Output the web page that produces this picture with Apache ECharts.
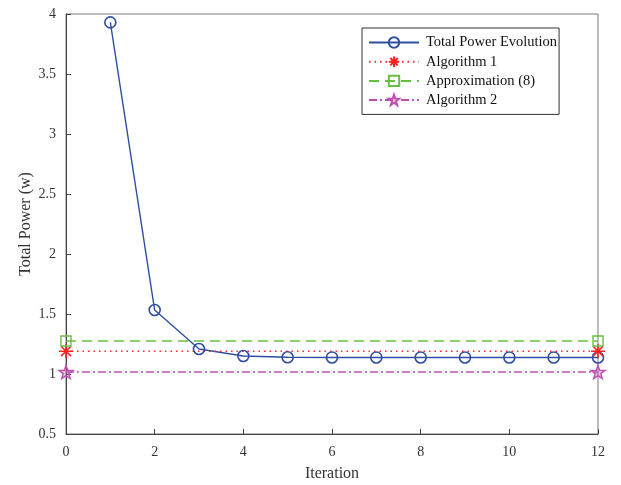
<!DOCTYPE html>
<html>
<head>
<meta charset="utf-8">
<script src="https://cdn.jsdelivr.net/npm/echarts@6/dist/echarts.min.js"></script>
<style>html,body{margin:0;padding:0;background:#fff}#c{width:621px;height:485px}</style>
</head>
<body>
<div id="c"></div>
<script>
// Iteration index and total power per iteration
const iterations = [1, 2, 3, 4, 5, 6, 7, 8, 9, 10, 11, 12];
const totalPower = [3.93, 1.533, 1.208, 1.15, 1.14, 1.138, 1.138, 1.138, 1.138, 1.138, 1.138, 1.138];
// Reference levels drawn across the whole iteration range
const levelSpan = [0, 12];
const algorithm1 = 1.19;
const approximation8 = 1.275;
const algorithm2 = 1.017;
const xTicks = { min: 0, max: 12, interval: 2 };
const yTicks = { min: 0.5, max: 4, interval: 0.5 };

const FONT = '"Liberation Serif", "Times New Roman", serif';
// eight-armed asterisk and five-pointed star marker outlines
const asterisk = 'path://M0,-10L0,10M-10,0L10,0M-7.07,-7.07L7.07,7.07M-7.07,7.07L7.07,-7.07';
const star = 'path://M0,-10L2.35,-3.24L9.51,-3.09L3.8,1.24L5.88,8.09L0,4L-5.88,8.09L-3.8,1.24L-9.51,-3.09L-2.35,-3.24Z';

function level(v) { return levelSpan.map(x => [x, v]); }

const chart = echarts.init(document.getElementById('c'), null, { renderer: 'canvas' });
chart.setOption({
  backgroundColor: '#fff',
  animation: false,
  textStyle: { fontFamily: FONT },
  grid: {
    left: 66, right: 23, top: 14, bottom: 51,
    containLabel: false, outerBoundsMode: 'none',
    show: true, borderColor: '#7a7a7a', borderWidth: 1
  },
  legend: {
    orient: 'vertical', left: 362, top: 28,
    backgroundColor: '#fff', borderColor: '#333', borderWidth: 1,
    padding: [7, 2, 7, 6], itemGap: 4, itemWidth: 50, itemHeight: 13,
    textStyle: { fontFamily: FONT, fontSize: 14.5, color: '#111', padding: [0, 0, 0, 2] },
    data: ['Total Power Evolution', 'Algorithm 1', 'Approximation (8)', 'Algorithm 2']
  },
  xAxis: {
    type: 'value', min: xTicks.min, max: xTicks.max, interval: xTicks.interval,
    name: 'Iteration', nameLocation: 'middle', nameGap: 32, nameMoveOverlap: false,
    nameTextStyle: { fontFamily: FONT, fontSize: 16, color: '#333' },
    axisLine: { lineStyle: { color: '#444', width: 1 } },
    axisTick: { inside: true, length: 5, lineStyle: { color: '#444' } },
    axisLabel: { fontFamily: FONT, fontSize: 14, color: '#333', margin: 11 },
    splitLine: { show: false }
  },
  yAxis: {
    type: 'value', min: yTicks.min, max: yTicks.max, interval: yTicks.interval,
    name: 'Total Power (w)', nameLocation: 'middle', nameGap: 32, nameRotate: 90,
    nameMoveOverlap: false,
    nameTextStyle: { fontFamily: FONT, fontSize: 16, color: '#333' },
    axisLine: { lineStyle: { color: '#444', width: 1 } },
    axisTick: { inside: true, length: 5, lineStyle: { color: '#444' } },
    axisLabel: { fontFamily: FONT, fontSize: 14, color: '#333', margin: 10 },
    splitLine: { show: false }
  },
  series: [
    {
      name: 'Total Power Evolution', type: 'line',
      data: iterations.map((x, i) => [x, totalPower[i]]),
      symbol: 'circle', symbolSize: 11,
      lineStyle: { color: '#2f4fa3', width: 1.4 },
      itemStyle: { color: 'rgba(255,255,255,0)', borderColor: '#2f4fa3', borderWidth: 1.6 }
    },
    {
      name: 'Algorithm 1', type: 'line', data: level(algorithm1),
      symbol: asterisk, symbolSize: 14, symbolKeepAspect: true,
      lineStyle: { color: '#ff2a2a', width: 1.4, type: [1.5, 4] },
      itemStyle: { color: 'none', borderColor: '#ff2020', borderWidth: 1.6 }
    },
    {
      name: 'Approximation (8)', type: 'line', data: level(approximation8),
      symbol: 'rect', symbolSize: 10,
      lineStyle: { color: '#66c040', width: 1.4, type: [10, 6] },
      itemStyle: { color: 'rgba(255,255,255,0)', borderColor: '#66c040', borderWidth: 1.4 }
    },
    {
      name: 'Algorithm 2', type: 'line', data: level(algorithm2),
      symbol: star, symbolSize: 14, symbolKeepAspect: true,
      lineStyle: { color: '#c050b0', width: 1.4, type: [8, 3, 2, 3] },
      itemStyle: { color: 'rgba(192,80,176,0.35)', borderColor: '#c050b0', borderWidth: 1.4 }
    }
  ]
});
</script>
</body>
</html>
